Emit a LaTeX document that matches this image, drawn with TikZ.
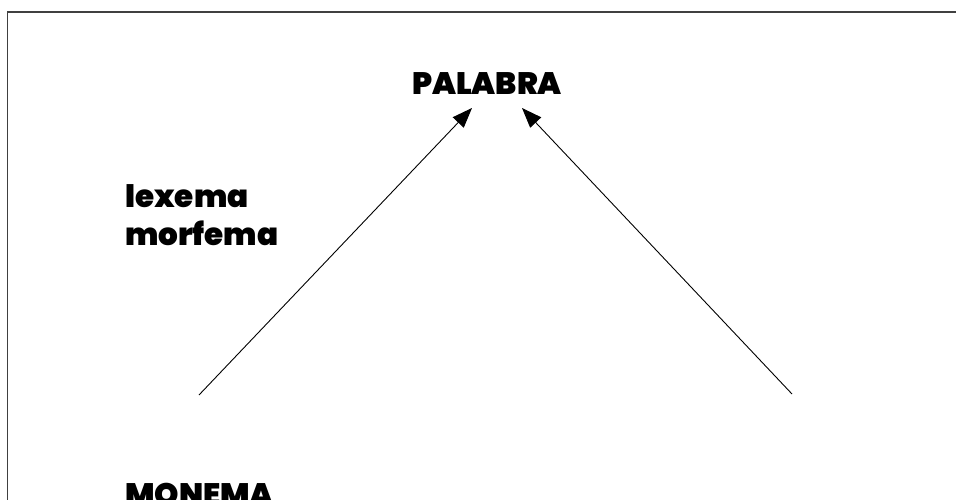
\documentclass[tikz,border=0pt]{standalone}
\usepackage{fontspec}
\setmainfont{Poppins}[UprightFont=* Black, BoldFont=* Black]
\usetikzlibrary{arrows.meta}
\begin{document}
\begin{tikzpicture}[x=1pt,y=-1pt,
  lbl/.style={inner sep=0pt, font=\fontsize{31}{38}\selectfont},
  arr/.style={line width=0.9pt, -{Triangle[length=20pt,width=15pt]}},
  frame/.style={line width=1.6pt, draw=black!75}]
\useasboundingbox (0,0) rectangle (956,500);
\draw[frame] (7.5,500) -- (7.5,12) -- (956,12);
\node[lbl, anchor=base] (palabra) at (487,95) {PALABRA};
\node[lbl, anchor=base west, align=left] (lexema) at (125,245) {lexema\\morfema};
\node[lbl, anchor=base west] (monema) at (125,505) {MONEMA};
\coordinate (ls) at (199,395);
\coordinate (lt) at (472,108);
\coordinate (rs) at (792,394);
\coordinate (rt) at (522,108);
\draw[arr] (ls) -- (lt);
\draw[arr] (rs) -- (rt);
\end{tikzpicture}
\end{document}
